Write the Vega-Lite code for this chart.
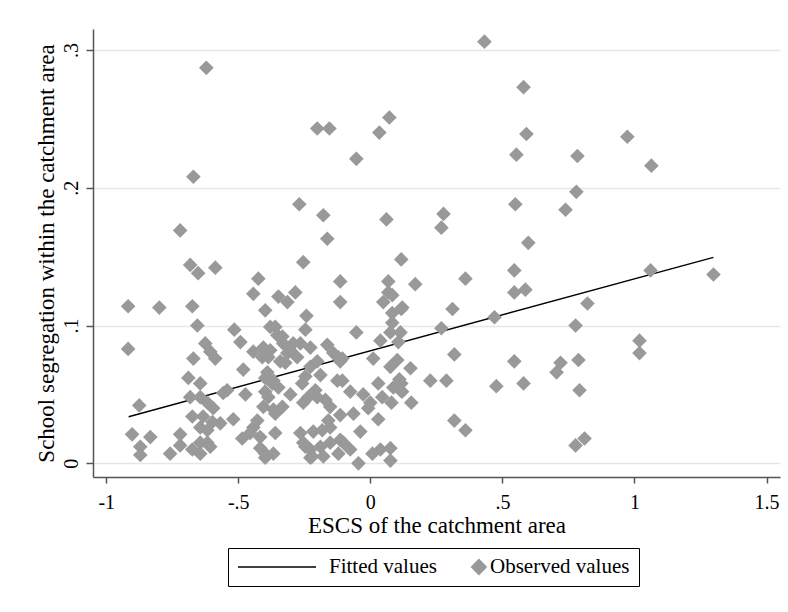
{
  "$schema": "https://vega.github.io/schema/vega-lite/v6.json",
  "width": 687,
  "height": 448,
  "autosize": {"type": "none"},
  "padding": {"left": 93, "top": 29, "right": 8, "bottom": 135},
  "background": "white",
  "config": {
    "view": {"stroke": null},
    "font": "Liberation Serif",
    "axis": {
      "domainColor": "#555555",
      "domainWidth": 1.5,
      "tickColor": "#555555",
      "tickWidth": 1.5,
      "labelFont": "Liberation Serif",
      "labelColor": "black",
      "titleFont": "Liberation Serif",
      "titleColor": "black",
      "titleFontWeight": "normal"
    },
    "legend": {
      "orient": "none",
      "legendX": 135,
      "legendY": 519,
      "direction": "horizontal",
      "padding": 9,
      "strokeColor": "black",
      "labelFont": "Liberation Serif",
      "labelFontSize": 21,
      "labelColor": "black",
      "labelOffset": 12,
      "columnPadding": 20,
      "clipHeight": 20,
      "symbolStrokeWidth": 1.5
    }
  },
  "datasets": {
    "fit": [
      {"x": -0.915, "y": 0.0338, "series": "Fitted values"},
      {"x": 1.299, "y": 0.1495, "series": "Fitted values"}
    ],
    "obs": [
      {"x": -0.621, "y": 0.287, "series": "Observed values"},
      {"x": -0.670, "y": 0.208, "series": "Observed values"},
      {"x": -0.720, "y": 0.169, "series": "Observed values"},
      {"x": -0.201, "y": 0.243, "series": "Observed values"},
      {"x": -0.155, "y": 0.243, "series": "Observed values"},
      {"x": 0.034, "y": 0.240, "series": "Observed values"},
      {"x": 0.072, "y": 0.251, "series": "Observed values"},
      {"x": -0.053, "y": 0.221, "series": "Observed values"},
      {"x": -0.269, "y": 0.188, "series": "Observed values"},
      {"x": -0.178, "y": 0.180, "series": "Observed values"},
      {"x": -0.163, "y": 0.163, "series": "Observed values"},
      {"x": 0.061, "y": 0.177, "series": "Observed values"},
      {"x": 0.432, "y": 0.306, "series": "Observed values"},
      {"x": 0.580, "y": 0.273, "series": "Observed values"},
      {"x": 0.591, "y": 0.239, "series": "Observed values"},
      {"x": 0.553, "y": 0.224, "series": "Observed values"},
      {"x": 0.784, "y": 0.223, "series": "Observed values"},
      {"x": 0.973, "y": 0.237, "series": "Observed values"},
      {"x": 1.064, "y": 0.216, "series": "Observed values"},
      {"x": 0.780, "y": 0.197, "series": "Observed values"},
      {"x": 0.549, "y": 0.188, "series": "Observed values"},
      {"x": 0.739, "y": 0.184, "series": "Observed values"},
      {"x": 0.277, "y": 0.181, "series": "Observed values"},
      {"x": 0.269, "y": 0.171, "series": "Observed values"},
      {"x": 0.598, "y": 0.160, "series": "Observed values"},
      {"x": 0.117, "y": 0.148, "series": "Observed values"},
      {"x": -0.682, "y": 0.144, "series": "Observed values"},
      {"x": -0.652, "y": 0.138, "series": "Observed values"},
      {"x": -0.587, "y": 0.142, "series": "Observed values"},
      {"x": -0.424, "y": 0.134, "series": "Observed values"},
      {"x": -0.254, "y": 0.146, "series": "Observed values"},
      {"x": -0.114, "y": 0.132, "series": "Observed values"},
      {"x": 0.068, "y": 0.132, "series": "Observed values"},
      {"x": 0.545, "y": 0.140, "series": "Observed values"},
      {"x": 0.360, "y": 0.134, "series": "Observed values"},
      {"x": 0.170, "y": 0.130, "series": "Observed values"},
      {"x": 0.545, "y": 0.124, "series": "Observed values"},
      {"x": 0.587, "y": 0.126, "series": "Observed values"},
      {"x": 1.061, "y": 0.140, "series": "Observed values"},
      {"x": 1.299, "y": 0.137, "series": "Observed values"},
      {"x": 0.822, "y": 0.116, "series": "Observed values"},
      {"x": 0.311, "y": 0.112, "series": "Observed values"},
      {"x": 0.117, "y": 0.112, "series": "Observed values"},
      {"x": 0.470, "y": 0.106, "series": "Observed values"},
      {"x": 0.269, "y": 0.098, "series": "Observed values"},
      {"x": 0.777, "y": 0.100, "series": "Observed values"},
      {"x": 1.019, "y": 0.089, "series": "Observed values"},
      {"x": 1.019, "y": 0.080, "series": "Observed values"},
      {"x": 0.318, "y": 0.079, "series": "Observed values"},
      {"x": 0.545, "y": 0.074, "series": "Observed values"},
      {"x": 0.788, "y": 0.075, "series": "Observed values"},
      {"x": 0.720, "y": 0.073, "series": "Observed values"},
      {"x": 0.705, "y": 0.066, "series": "Observed values"},
      {"x": 0.152, "y": 0.069, "series": "Observed values"},
      {"x": 0.227, "y": 0.060, "series": "Observed values"},
      {"x": 0.288, "y": 0.060, "series": "Observed values"},
      {"x": 0.477, "y": 0.056, "series": "Observed values"},
      {"x": 0.580, "y": 0.058, "series": "Observed values"},
      {"x": 0.792, "y": 0.053, "series": "Observed values"},
      {"x": 0.117, "y": 0.058, "series": "Observed values"},
      {"x": 0.120, "y": 0.052, "series": "Observed values"},
      {"x": 0.155, "y": 0.044, "series": "Observed values"},
      {"x": 0.080, "y": 0.044, "series": "Observed values"},
      {"x": 0.318, "y": 0.031, "series": "Observed values"},
      {"x": 0.360, "y": 0.024, "series": "Observed values"},
      {"x": 0.777, "y": 0.013, "series": "Observed values"},
      {"x": 0.811, "y": 0.018, "series": "Observed values"},
      {"x": 0.076, "y": 0.011, "series": "Observed values"},
      {"x": 0.076, "y": 0.002, "series": "Observed values"},
      {"x": 0.068, "y": 0.124, "series": "Observed values"},
      {"x": 0.049, "y": 0.117, "series": "Observed values"},
      {"x": 0.083, "y": 0.122, "series": "Observed values"},
      {"x": 0.083, "y": 0.109, "series": "Observed values"},
      {"x": 0.121, "y": 0.113, "series": "Observed values"},
      {"x": -0.114, "y": 0.117, "series": "Observed values"},
      {"x": -0.053, "y": 0.095, "series": "Observed values"},
      {"x": 0.083, "y": 0.102, "series": "Observed values"},
      {"x": 0.038, "y": 0.089, "series": "Observed values"},
      {"x": 0.076, "y": 0.095, "series": "Observed values"},
      {"x": 0.114, "y": 0.095, "series": "Observed values"},
      {"x": 0.106, "y": 0.088, "series": "Observed values"},
      {"x": -0.106, "y": 0.076, "series": "Observed values"},
      {"x": 0.011, "y": 0.076, "series": "Observed values"},
      {"x": 0.076, "y": 0.070, "series": "Observed values"},
      {"x": 0.102, "y": 0.075, "series": "Observed values"},
      {"x": -0.106, "y": 0.060, "series": "Observed values"},
      {"x": 0.030, "y": 0.058, "series": "Observed values"},
      {"x": 0.087, "y": 0.055, "series": "Observed values"},
      {"x": 0.110, "y": 0.061, "series": "Observed values"},
      {"x": 0.114, "y": 0.053, "series": "Observed values"},
      {"x": -0.076, "y": 0.052, "series": "Observed values"},
      {"x": -0.027, "y": 0.050, "series": "Observed values"},
      {"x": 0.000, "y": 0.044, "series": "Observed values"},
      {"x": 0.045, "y": 0.048, "series": "Observed values"},
      {"x": -0.008, "y": 0.040, "series": "Observed values"},
      {"x": -0.064, "y": 0.036, "series": "Observed values"},
      {"x": 0.030, "y": 0.032, "series": "Observed values"},
      {"x": -0.038, "y": 0.023, "series": "Observed values"},
      {"x": -0.102, "y": 0.015, "series": "Observed values"},
      {"x": -0.076, "y": 0.010, "series": "Observed values"},
      {"x": 0.008, "y": 0.007, "series": "Observed values"},
      {"x": 0.038, "y": 0.010, "series": "Observed values"},
      {"x": -0.045, "y": 0.000, "series": "Observed values"},
      {"x": -0.443, "y": 0.123, "series": "Observed values"},
      {"x": -0.348, "y": 0.121, "series": "Observed values"},
      {"x": -0.314, "y": 0.117, "series": "Observed values"},
      {"x": -0.284, "y": 0.124, "series": "Observed values"},
      {"x": -0.398, "y": 0.111, "series": "Observed values"},
      {"x": -0.242, "y": 0.107, "series": "Observed values"},
      {"x": -0.246, "y": 0.097, "series": "Observed values"},
      {"x": -0.515, "y": 0.097, "series": "Observed values"},
      {"x": -0.492, "y": 0.088, "series": "Observed values"},
      {"x": -0.379, "y": 0.099, "series": "Observed values"},
      {"x": -0.352, "y": 0.093, "series": "Observed values"},
      {"x": -0.330, "y": 0.087, "series": "Observed values"},
      {"x": -0.303, "y": 0.082, "series": "Observed values"},
      {"x": -0.265, "y": 0.087, "series": "Observed values"},
      {"x": -0.227, "y": 0.084, "series": "Observed values"},
      {"x": -0.163, "y": 0.086, "series": "Observed values"},
      {"x": -0.140, "y": 0.080, "series": "Observed values"},
      {"x": -0.114, "y": 0.074, "series": "Observed values"},
      {"x": -0.443, "y": 0.081, "series": "Observed values"},
      {"x": -0.409, "y": 0.077, "series": "Observed values"},
      {"x": -0.379, "y": 0.082, "series": "Observed values"},
      {"x": -0.277, "y": 0.077, "series": "Observed values"},
      {"x": -0.341, "y": 0.074, "series": "Observed values"},
      {"x": -0.481, "y": 0.068, "series": "Observed values"},
      {"x": -0.390, "y": 0.066, "series": "Observed values"},
      {"x": -0.371, "y": 0.058, "series": "Observed values"},
      {"x": -0.398, "y": 0.052, "series": "Observed values"},
      {"x": -0.227, "y": 0.070, "series": "Observed values"},
      {"x": -0.201, "y": 0.074, "series": "Observed values"},
      {"x": -0.246, "y": 0.063, "series": "Observed values"},
      {"x": -0.189, "y": 0.064, "series": "Observed values"},
      {"x": -0.125, "y": 0.060, "series": "Observed values"},
      {"x": -0.542, "y": 0.053, "series": "Observed values"},
      {"x": -0.473, "y": 0.050, "series": "Observed values"},
      {"x": -0.303, "y": 0.050, "series": "Observed values"},
      {"x": -0.254, "y": 0.044, "series": "Observed values"},
      {"x": -0.201, "y": 0.048, "series": "Observed values"},
      {"x": -0.405, "y": 0.041, "series": "Observed values"},
      {"x": -0.367, "y": 0.039, "series": "Observed values"},
      {"x": -0.152, "y": 0.041, "series": "Observed values"},
      {"x": -0.114, "y": 0.035, "series": "Observed values"},
      {"x": -0.519, "y": 0.032, "series": "Observed values"},
      {"x": -0.428, "y": 0.031, "series": "Observed values"},
      {"x": -0.443, "y": 0.026, "series": "Observed values"},
      {"x": -0.455, "y": 0.022, "series": "Observed values"},
      {"x": -0.417, "y": 0.019, "series": "Observed values"},
      {"x": -0.360, "y": 0.022, "series": "Observed values"},
      {"x": -0.485, "y": 0.018, "series": "Observed values"},
      {"x": -0.265, "y": 0.022, "series": "Observed values"},
      {"x": -0.216, "y": 0.023, "series": "Observed values"},
      {"x": -0.152, "y": 0.026, "series": "Observed values"},
      {"x": -0.417, "y": 0.011, "series": "Observed values"},
      {"x": -0.367, "y": 0.007, "series": "Observed values"},
      {"x": -0.398, "y": 0.004, "series": "Observed values"},
      {"x": -0.254, "y": 0.015, "series": "Observed values"},
      {"x": -0.227, "y": 0.010, "series": "Observed values"},
      {"x": -0.189, "y": 0.012, "series": "Observed values"},
      {"x": -0.152, "y": 0.015, "series": "Observed values"},
      {"x": -0.114, "y": 0.017, "series": "Observed values"},
      {"x": -0.227, "y": 0.004, "series": "Observed values"},
      {"x": -0.178, "y": 0.005, "series": "Observed values"},
      {"x": -0.121, "y": 0.007, "series": "Observed values"},
      {"x": -0.917, "y": 0.114, "series": "Observed values"},
      {"x": -0.799, "y": 0.113, "series": "Observed values"},
      {"x": -0.674, "y": 0.114, "series": "Observed values"},
      {"x": -0.655, "y": 0.100, "series": "Observed values"},
      {"x": -0.917, "y": 0.083, "series": "Observed values"},
      {"x": -0.670, "y": 0.076, "series": "Observed values"},
      {"x": -0.625, "y": 0.087, "series": "Observed values"},
      {"x": -0.606, "y": 0.081, "series": "Observed values"},
      {"x": -0.587, "y": 0.076, "series": "Observed values"},
      {"x": -0.689, "y": 0.062, "series": "Observed values"},
      {"x": -0.644, "y": 0.058, "series": "Observed values"},
      {"x": -0.557, "y": 0.051, "series": "Observed values"},
      {"x": -0.875, "y": 0.042, "series": "Observed values"},
      {"x": -0.682, "y": 0.048, "series": "Observed values"},
      {"x": -0.644, "y": 0.048, "series": "Observed values"},
      {"x": -0.617, "y": 0.044, "series": "Observed values"},
      {"x": -0.595, "y": 0.040, "series": "Observed values"},
      {"x": -0.674, "y": 0.034, "series": "Observed values"},
      {"x": -0.633, "y": 0.034, "series": "Observed values"},
      {"x": -0.598, "y": 0.030, "series": "Observed values"},
      {"x": -0.644, "y": 0.026, "series": "Observed values"},
      {"x": -0.617, "y": 0.024, "series": "Observed values"},
      {"x": -0.568, "y": 0.029, "series": "Observed values"},
      {"x": -0.902, "y": 0.021, "series": "Observed values"},
      {"x": -0.833, "y": 0.019, "series": "Observed values"},
      {"x": -0.871, "y": 0.012, "series": "Observed values"},
      {"x": -0.871, "y": 0.006, "series": "Observed values"},
      {"x": -0.720, "y": 0.021, "series": "Observed values"},
      {"x": -0.720, "y": 0.013, "series": "Observed values"},
      {"x": -0.758, "y": 0.007, "series": "Observed values"},
      {"x": -0.674, "y": 0.010, "series": "Observed values"},
      {"x": -0.644, "y": 0.015, "series": "Observed values"},
      {"x": -0.617, "y": 0.015, "series": "Observed values"},
      {"x": -0.644, "y": 0.007, "series": "Observed values"},
      {"x": -0.606, "y": 0.012, "series": "Observed values"},
      {"x": -0.405, "y": 0.084, "series": "Observed values"},
      {"x": -0.386, "y": 0.077, "series": "Observed values"},
      {"x": -0.398, "y": 0.062, "series": "Observed values"},
      {"x": -0.367, "y": 0.060, "series": "Observed values"},
      {"x": -0.348, "y": 0.055, "series": "Observed values"},
      {"x": -0.386, "y": 0.048, "series": "Observed values"},
      {"x": -0.360, "y": 0.036, "series": "Observed values"},
      {"x": -0.333, "y": 0.041, "series": "Observed values"},
      {"x": -0.398, "y": 0.007, "series": "Observed values"},
      {"x": -0.258, "y": 0.058, "series": "Observed values"},
      {"x": -0.235, "y": 0.048, "series": "Observed values"},
      {"x": -0.208, "y": 0.053, "series": "Observed values"},
      {"x": -0.170, "y": 0.046, "series": "Observed values"},
      {"x": -0.246, "y": 0.012, "series": "Observed values"},
      {"x": -0.220, "y": 0.005, "series": "Observed values"},
      {"x": -0.159, "y": 0.031, "series": "Observed values"},
      {"x": -0.182, "y": 0.024, "series": "Observed values"},
      {"x": -0.292, "y": 0.087, "series": "Observed values"},
      {"x": -0.333, "y": 0.092, "series": "Observed values"},
      {"x": -0.360, "y": 0.099, "series": "Observed values"},
      {"x": -0.322, "y": 0.073, "series": "Observed values"},
      {"x": -0.314, "y": 0.080, "series": "Observed values"},
      {"x": -0.121, "y": 0.077, "series": "Observed values"}
    ]
  },
  "encoding": {
    "x": {
      "field": "x",
      "type": "quantitative",
      "scale": {"domain": [-1.05, 1.551], "nice": false, "zero": false},
      "axis": {
        "values": [-1, -0.5, 0, 0.5, 1, 1.5],
        "grid": false,
        "tickSize": 6,
        "labelFont": "Liberation Serif",
        "labelFontSize": 20,
        "labelBaseline": "alphabetic",
        "labelPadding": 25.5,
        "labelFlush": false,
        "labelExpr": "datum.value == 0 ? '0' : replace(replace(format(datum.value, '~g'), '0.', '.'), '\u2212', '-')",
        "title": "ESCS of the catchment area",
        "titleFont": "Liberation Serif",
        "titleFontSize": 23,
        "titleBaseline": "alphabetic",
        "titleY": 55
      }
    },
    "y": {
      "field": "y",
      "type": "quantitative",
      "scale": {"domain": [-0.00994, 0.3152], "nice": false, "zero": false},
      "axis": {
        "values": [0, 0.1, 0.2, 0.3],
        "grid": true,
        "gridColor": "#e6e6e6",
        "gridWidth": 1.5,
        "tickSize": 7,
        "labelFont": "Liberation Serif",
        "labelFontSize": 20,
        "labelAngle": -90,
        "labelAlign": "center",
        "labelBaseline": "alphabetic",
        "labelPadding": 9,
        "labelFlush": false,
        "labelExpr": "datum.value == 0 ? '0' : replace(replace(format(datum.value, '~g'), '0.', '.'), '\u2212', '-')",
        "title": "School segregation within the catchment area",
        "titleFont": "Liberation Serif",
        "titleFontSize": 23,
        "titleAngle": -90,
        "titleBaseline": "alphabetic",
        "titleX": -40
      }
    }
  },
  "layer": [
    {
      "data": {"name": "fit"},
      "mark": {"type": "line", "strokeWidth": 1.4},
      "encoding": {
        "color": {
          "field": "series",
          "type": "nominal",
          "scale": {"domain": ["Fitted values", "Observed values"], "range": ["black", "#999999"]},
          "legend": {
            "title": null,
            "encode": {
              "symbols": {
                "update": {
                  "shape": {"signal": "datum.value === 'Fitted values' ? 'stroke' : 'M0.556,0L1.556,-1L2.556,0L1.556,1Z'"},
                  "fill": {"signal": "datum.value === 'Fitted values' ? 'transparent' : '#999999'"},
                  "stroke": {"signal": "datum.value === 'Fitted values' ? 'black' : 'transparent'"},
                  "strokeWidth": {"value": 1.5}
                }
              }
            }
          }
        }
      }
    },
    {
      "data": {"name": "obs"},
      "mark": {"type": "point", "shape": "diamond", "filled": true, "opacity": 1},
      "encoding": {
        "color": {
          "field": "series",
          "type": "nominal",
          "scale": {"domain": ["Fitted values", "Observed values"], "range": ["black", "#999999"]},
          "legend": {
            "title": null,
            "encode": {
              "symbols": {
                "update": {
                  "shape": {"signal": "datum.value === 'Fitted values' ? 'stroke' : 'M0.556,0L1.556,-1L2.556,0L1.556,1Z'"},
                  "fill": {"signal": "datum.value === 'Fitted values' ? 'transparent' : '#999999'"},
                  "stroke": {"signal": "datum.value === 'Fitted values' ? 'black' : 'transparent'"},
                  "strokeWidth": {"value": 1.5}
                }
              }
            }
          }
        },
        "size": {
          "field": "series",
          "type": "nominal",
          "scale": {"type": "point", "padding": 0, "domain": ["Fitted values", "Observed values"], "range": [6084, 215]},
          "legend": {"title": null}
        }
      }
    }
  ]
}
